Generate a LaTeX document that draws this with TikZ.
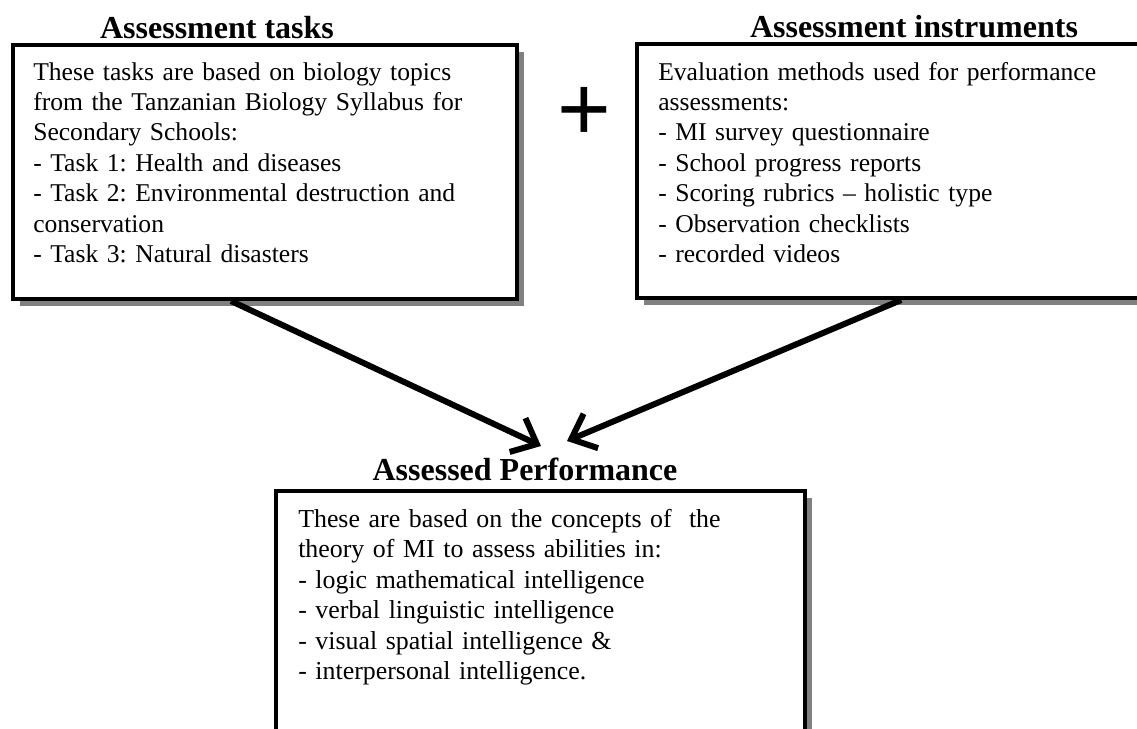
\documentclass[tikz,border=0pt]{standalone}
\usepackage{fontspec}
\setmainfont{Liberation Serif}
\newfontfamily\bodyfont{Liberation Serif}
\newfontfamily\plusfont{Liberation Sans}
\usetikzlibrary{positioning,arrows.meta,calc,shadows}
\usepackage{xcolor}
\definecolor{figInk}{RGB}{0,0,0}
\definecolor{figShadow}{RGB}{128,128,128}
\definecolor{figPaper}{RGB}{255,255,255}
\frenchspacing

\tikzset{
  framebox/.style={draw=figInk, line width=3pt, fill=figPaper, inner sep=0pt,
    drop shadow={shadow xshift=5.25pt, shadow yshift=-5.25pt, fill=figShadow, opacity=1}},
  boxtitle/.style={font=\fontsize{24}{28}\selectfont\bfseries, inner sep=0pt, anchor=base},
  toptext/.style={font=\bodyfont\fontsize{19.2}{22.8}\selectfont, text width=370pt,
    align=left, inner sep=0pt, anchor=base west},
  lowtext/.style={font=\bodyfont\fontsize{19.4}{22.9}\selectfont, text width=380pt,
    align=left, inner sep=0pt, anchor=base west},
  feed/.style={draw=figInk, line width=4.5pt, -{Straight Barb[length=16pt,width=28pt]}}
}

\begin{document}
\begin{tikzpicture}[x=0.75pt, y=-0.75pt]
  \useasboundingbox (0,0) rectangle (1137,728);

  % the two input boxes
  \node[framebox, minimum width=378pt, minimum height=190.5pt] (tasks) at (265,172) {};
  \node[framebox, minimum width=378pt, minimum height=190.5pt] (instruments) at (889,171) {};
  % result box, runs off the page at the bottom
  \node[framebox, minimum width=396.75pt, minimum height=190.5pt] (performance) at (540.5,618) {};

  \node[boxtitle] (tasksTitle) at (217,38) {Assessment tasks};
  \node[boxtitle] (instrumentsTitle) at (914,37) {Assessment instruments};
  \node[boxtitle] (performanceTitle) at (525,480) {Assessed Performance};

  \node[toptext] (tasksText) at (33,80)
  {These tasks are based on biology topics\\
   from the Tanzanian Biology Syllabus for\\
   Secondary Schools:\\
   - Task 1: Health and diseases\\
   - Task 2: Environmental destruction and\\
   conservation\\
   - Task 3: Natural disasters};

  \node[toptext] (instrumentsText) at (658,80)
  {Evaluation methods used for performance\\
   assessments:\\
   - MI survey questionnaire\\
   - School progress reports\\
   - Scoring rubrics – holistic type\\
   - Observation checklists\\
   - recorded videos};

  \node[lowtext] (performanceText) at (298,527)
  {These are based on the concepts of\ \ the\\
   theory of MI to assess abilities in:\\
   - logic mathematical intelligence\\
   - verbal linguistic intelligence\\
   - visual spatial intelligence \&\\
   - interpersonal intelligence.};

  \node[font=\plusfont\fontsize{69}{69}\selectfont, inner sep=0pt, anchor=base] (plus) at (584,140) {+};

  % arrows into the result
  \coordinate (tipA) at (541,446);
  \coordinate (tipB) at (567,441);
  \draw[feed] ($(tasks.south west)!0.433!(tasks.south east)$) -- (tipA);
  \draw[feed] ($(instruments.south west)!0.524!(instruments.south east)$) -- (tipB);
\end{tikzpicture}
\end{document}
